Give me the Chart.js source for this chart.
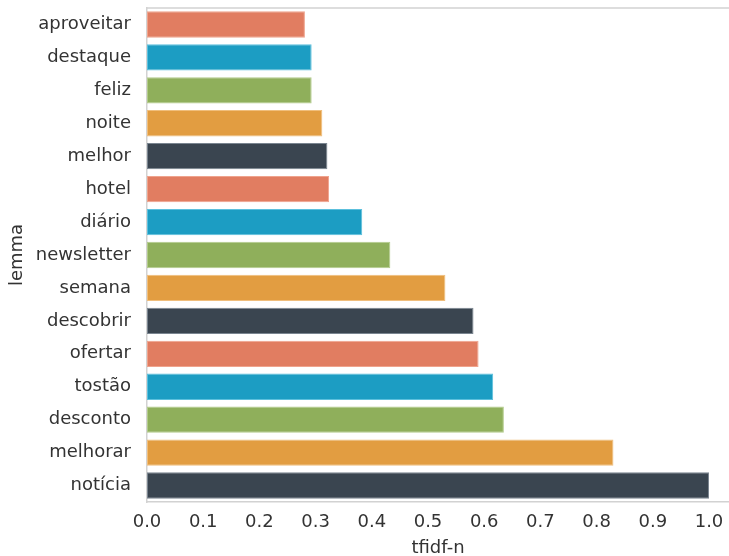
<!DOCTYPE html>
<html lang="en">
<head>
    <meta charset="UTF-8">
    <title>tfidf-n por lemma</title>
    <script src="https://cdn.jsdelivr.net/npm/chart.js@4/dist/chart.umd.min.js"></script>
    <style>
        html, body { margin: 0; padding: 0; background: #fff; overflow: hidden; }
        #wrap { width: 729px; height: 556px; }
    </style>
</head>
<body>
    <div id="wrap"><canvas id="myChart" width="729" height="556"></canvas></div>

    <script>
        // lemmas, top to bottom
        var lemmas = ['aproveitar', 'destaque', 'feliz', 'noite', 'melhor', 'hotel', 'diário',
                      'newsletter', 'semana', 'descobrir', 'ofertar', 'tostão', 'desconto',
                      'melhorar', 'notícia'];
        // normalised tf-idf per lemma
        var tfidfN = [0.281, 0.293, 0.293, 0.312, 0.321, 0.324, 0.383,
                      0.433, 0.531, 0.581, 0.590, 0.616, 0.635, 0.830, 1.0];
        var xTicks = [0.0, 0.1, 0.2, 0.3, 0.4, 0.5, 0.6, 0.7, 0.8, 0.9, 1.0];

        // five-colour palette, repeated down the bars
        var palette = ['#E17D61', '#1C9DC3', '#8FAF5B', '#E29D41', '#3A4550'];
        var edges = ['#EFA38D', '#5CC0DD', '#B2CB8A', '#F0BE7C', '#7A8590'];
        var fills = lemmas.map(function (l, i) { return palette[i % palette.length]; });
        var borders = lemmas.map(function (l, i) { return edges[i % edges.length]; });

        var spineColor = '#d2d2d2';
        var textColor = '#333333';
        var font = { family: 'DejaVu Sans', size: 18 };

        // top spine (the right one falls off the canvas)
        var frame = {
            id: 'frame',
            afterDraw: function (chart) {
                var a = chart.chartArea, c = chart.ctx;
                c.save();
                c.strokeStyle = spineColor;
                c.lineWidth = 1.5;
                c.beginPath();
                c.moveTo(a.left, a.top);
                c.lineTo(a.right, a.top);
                c.stroke();
                c.restore();
            }
        };

        var ctx = document.getElementById('myChart').getContext('2d');
        var myChart = new Chart(ctx, {
            type: 'bar',
            data: {
                labels: lemmas,
                datasets: [{
                    label: 'tfidf-n',
                    data: tfidfN,
                    backgroundColor: fills,
                    borderColor: borders,
                    borderWidth: 1,
                    borderSkipped: false,
                    barPercentage: 0.8,
                    categoryPercentage: 1.0
                }]
            },
            options: {
                indexAxis: 'y',
                responsive: false,
                animation: false,
                layout: { padding: { top: 8, left: 0, right: 0, bottom: 0 } },
                plugins: { legend: { display: false }, tooltip: { enabled: false } },
                scales: {
                    x: {
                        type: 'linear',
                        min: 0,
                        max: 1.0356,
                        afterBuildTicks: function (scale) {
                            scale.ticks = xTicks.map(function (v) { return { value: v }; });
                        },
                        afterFit: function (scale) {
                            scale.height = 54;
                            scale.paddingLeft = 0;
                            scale.paddingRight = 0;
                        },
                        grid: { display: false, drawTicks: false },
                        border: { display: true, color: spineColor, width: 1.5 },
                        ticks: {
                            color: textColor, font: font, padding: 10, maxRotation: 0,
                            callback: function (v) { return v.toFixed(1); }
                        },
                        title: {
                            display: true, text: 'tfidf-n', color: textColor,
                            font: { family: 'DejaVu Sans', size: 18, lineHeight: 0.85 },
                            padding: { top: 0, bottom: 0 }
                        }
                    },
                    y: {
                        afterFit: function (scale) {
                            scale.width = 147;
                            scale.paddingTop = 0;
                            scale.paddingBottom = 0;
                        },
                        grid: { display: false, drawTicks: false },
                        border: { display: true, color: spineColor, width: 1.5 },
                        ticks: { color: textColor, font: font, padding: 16 },
                        title: {
                            display: true, text: 'lemma', color: textColor,
                            font: { family: 'DejaVu Sans', size: 18, lineHeight: 1.0 },
                            padding: { top: 8, bottom: 0 }
                        }
                    }
                }
            },
            plugins: [frame]
        });
    </script>
</body>
</html>
